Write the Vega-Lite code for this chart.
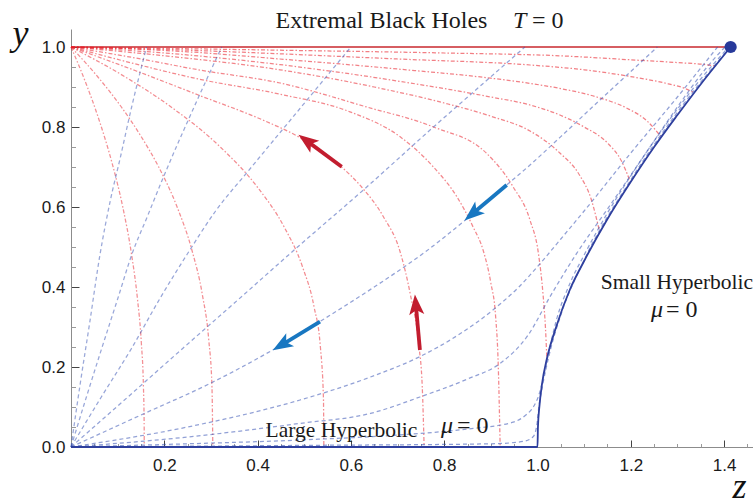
{
  "$schema": "https://vega.github.io/schema/vega-lite/v6.json",
  "width": 682,
  "height": 418,
  "autosize": {"type": "none"},
  "padding": {"left": 71, "top": 29, "right": 0, "bottom": 57},
  "background": "white",
  "config": {"view": {"stroke": null}},
  "resolve": {"axis": {"x": "independent", "y": "independent"}},
  "datasets": {
    "red": [
      {"k":1,"z":0,"y":1},{"k":1,"z":0.0318,"y":0.91},{"k":1,"z":0.0595,"y":0.82},{"k":1,"z":0.088,"y":0.71},{"k":1,"z":0.111,"y":0.6},{"k":1,"z":0.13,"y":0.48},{"k":1,"z":0.1425,"y":0.37},{"k":1,"z":0.1508,"y":0.26},{"k":1,"z":0.1553,"y":0.15},{"k":1,"z":0.1568,"y":0.06},{"k":1,"z":0.157,"y":0},
      {"k":2,"z":0,"y":1},{"k":2,"z":0.0577,"y":0.925},{"k":2,"z":0.108,"y":0.85},{"k":2,"z":0.151,"y":0.775},{"k":2,"z":0.188,"y":0.7},{"k":2,"z":0.2275,"y":0.6},{"k":2,"z":0.2597,"y":0.49},{"k":2,"z":0.2817,"y":0.38},{"k":2,"z":0.2951,"y":0.27},{"k":2,"z":0.3022,"y":0.15},{"k":2,"z":0.304,"y":0},
      {"k":3,"z":0,"y":1},{"k":3,"z":0.1165,"y":0.925},{"k":3,"z":0.2146,"y":0.85},{"k":3,"z":0.32,"y":0.75},{"k":3,"z":0.3994,"y":0.65},{"k":3,"z":0.457,"y":0.55},{"k":3,"z":0.4964,"y":0.45},{"k":3,"z":0.5211,"y":0.35},{"k":3,"z":0.5346,"y":0.25},{"k":3,"z":0.5412,"y":0.12},{"k":3,"z":0.542,"y":0},
      {"k":4,"z":0,"y":1},{"k":4,"z":0.14,"y":0.94},{"k":4,"z":0.273,"y":0.88},{"k":4,"z":0.416,"y":0.815},{"k":4,"z":0.487,"y":0.776},{"k":4,"z":0.58,"y":0.7},{"k":4,"z":0.623,"y":0.65},{"k":4,"z":0.67,"y":0.575},{"k":4,"z":0.705,"y":0.49},{"k":4,"z":0.727,"y":0.384},{"k":4,"z":0.745,"y":0.26},{"k":4,"z":0.753,"y":0.15},{"k":4,"z":0.757,"y":0},
      {"k":5,"z":0,"y":1},{"k":5,"z":0.13,"y":0.96},{"k":5,"z":0.273,"y":0.92},{"k":5,"z":0.448,"y":0.882},{"k":5,"z":0.598,"y":0.838},{"k":5,"z":0.705,"y":0.776},{"k":5,"z":0.777,"y":0.7},{"k":5,"z":0.827,"y":0.626},{"k":5,"z":0.862,"y":0.55},{"k":5,"z":0.884,"y":0.49},{"k":5,"z":0.9,"y":0.41},{"k":5,"z":0.91,"y":0.33},{"k":5,"z":0.916,"y":0.2},{"k":5,"z":0.92,"y":0},
      {"k":6,"z":0,"y":1},{"k":6,"z":0.15,"y":0.97},{"k":6,"z":0.273,"y":0.943},{"k":6,"z":0.448,"y":0.91},{"k":6,"z":0.634,"y":0.85},{"k":6,"z":0.777,"y":0.8},{"k":6,"z":0.891,"y":0.734},{"k":6,"z":0.948,"y":0.65},{"k":6,"z":0.984,"y":0.567},{"k":6,"z":1.002,"y":0.484},{"k":6,"z":1.012,"y":0.38},{"k":6,"z":1.017,"y":0.3},{"k":6,"z":1.02,"y":0.225},
      {"k":7,"z":0,"y":1},{"k":7,"z":0.2,"y":0.978},{"k":7,"z":0.448,"y":0.943},{"k":7,"z":0.65,"y":0.9},{"k":7,"z":0.8,"y":0.86},{"k":7,"z":0.9,"y":0.827},{"k":7,"z":0.984,"y":0.79},{"k":7,"z":1.048,"y":0.735},{"k":7,"z":1.09,"y":0.68},{"k":7,"z":1.115,"y":0.62},{"k":7,"z":1.134,"y":0.534},
      {"k":8,"z":0,"y":1},{"k":8,"z":0.2,"y":0.985},{"k":8,"z":0.448,"y":0.956},{"k":8,"z":0.7,"y":0.915},{"k":8,"z":0.9,"y":0.875},{"k":8,"z":0.984,"y":0.855},{"k":8,"z":1.048,"y":0.83},{"k":8,"z":1.1,"y":0.8},{"k":8,"z":1.15,"y":0.76},{"k":8,"z":1.18,"y":0.715},{"k":8,"z":1.199,"y":0.663},
      {"k":9,"z":0,"y":1},{"k":9,"z":0.25,"y":0.988},{"k":9,"z":0.448,"y":0.97},{"k":9,"z":0.7,"y":0.945},{"k":9,"z":0.9,"y":0.922},{"k":9,"z":0.984,"y":0.909},{"k":9,"z":1.05,"y":0.896},{"k":9,"z":1.127,"y":0.875},{"k":9,"z":1.19,"y":0.848},{"k":9,"z":1.235,"y":0.815},{"k":9,"z":1.264,"y":0.777},
      {"k":10,"z":0,"y":1},{"k":10,"z":0.25,"y":0.992},{"k":10,"z":0.448,"y":0.983},{"k":10,"z":0.7,"y":0.97},{"k":10,"z":0.984,"y":0.955},{"k":10,"z":1.1,"y":0.943},{"k":10,"z":1.2,"y":0.926},{"k":10,"z":1.28,"y":0.908},{"k":10,"z":1.315,"y":0.897},{"k":10,"z":1.334,"y":0.887},
      {"k":11,"z":0,"y":1},{"k":11,"z":0.448,"y":0.992},{"k":11,"z":0.8,"y":0.985},{"k":11,"z":1.048,"y":0.978},{"k":11,"z":1.2,"y":0.968},{"k":11,"z":1.3,"y":0.961},{"k":11,"z":1.36,"y":0.956},{"k":11,"z":1.384,"y":0.952}
    ],
    "blue": [
      {"k":1,"z":0,"y":0},{"k":1,"z":0.02,"y":0.16},{"k":1,"z":0.04,"y":0.31},{"k":1,"z":0.062,"y":0.48},{"k":1,"z":0.085,"y":0.62},{"k":1,"z":0.105,"y":0.72},{"k":1,"z":0.13,"y":0.85},{"k":1,"z":0.162,"y":1},
      {"k":2,"z":0,"y":0},{"k":2,"z":0.033,"y":0.125},{"k":2,"z":0.066,"y":0.247},{"k":2,"z":0.1,"y":0.37},{"k":2,"z":0.13,"y":0.48},{"k":2,"z":0.165,"y":0.58},{"k":2,"z":0.2,"y":0.68},{"k":2,"z":0.26,"y":0.84},{"k":2,"z":0.323,"y":1},
      {"k":3,"z":0,"y":0},{"k":3,"z":0.065,"y":0.125},{"k":3,"z":0.13,"y":0.247},{"k":3,"z":0.19,"y":0.37},{"k":3,"z":0.248,"y":0.48},{"k":3,"z":0.31,"y":0.59},{"k":3,"z":0.38,"y":0.69},{"k":3,"z":0.49,"y":0.845},{"k":3,"z":0.6,"y":1},
      {"k":4,"z":0,"y":0},{"k":4,"z":0.12,"y":0.123},{"k":4,"z":0.24,"y":0.247},{"k":4,"z":0.36,"y":0.37},{"k":4,"z":0.476,"y":0.49},{"k":4,"z":0.634,"y":0.65},{"k":4,"z":0.777,"y":0.8},{"k":4,"z":0.87,"y":0.895},{"k":4,"z":0.973,"y":1},
      {"k":5,"z":0,"y":0},{"k":5,"z":0.15,"y":0.08},{"k":5,"z":0.3,"y":0.16},{"k":5,"z":0.433,"y":0.243},{"k":5,"z":0.534,"y":0.314},{"k":5,"z":0.65,"y":0.4},{"k":5,"z":0.762,"y":0.49},{"k":5,"z":0.845,"y":0.567},{"k":5,"z":0.934,"y":0.655},{"k":5,"z":0.984,"y":0.705},{"k":5,"z":1.05,"y":0.776},{"k":5,"z":1.127,"y":0.86},{"k":5,"z":1.19,"y":0.928},{"k":5,"z":1.257,"y":1},
      {"k":6,"z":0,"y":0},{"k":6,"z":0.25,"y":0.05},{"k":6,"z":0.491,"y":0.1175},{"k":6,"z":0.642,"y":0.175},{"k":6,"z":0.748,"y":0.226},{"k":6,"z":0.83,"y":0.28},{"k":6,"z":0.905,"y":0.343},{"k":6,"z":0.96,"y":0.4},{"k":6,"z":1.006,"y":0.459},{"k":6,"z":1.05,"y":0.52},{"k":6,"z":1.1,"y":0.59},{"k":6,"z":1.2,"y":0.735},{"k":6,"z":1.3,"y":0.875},{"k":6,"z":1.386,"y":1},
      {"k":7,"z":0,"y":0},{"k":7,"z":0.25,"y":0.025},{"k":7,"z":0.491,"y":0.059},{"k":7,"z":0.642,"y":0.084},{"k":7,"z":0.748,"y":0.125},{"k":7,"z":0.85,"y":0.17},{"k":7,"z":0.92,"y":0.209},{"k":7,"z":0.98,"y":0.28},{"k":7,"z":1.027,"y":0.376},{"k":7,"z":1.084,"y":0.484},{"k":7,"z":1.15,"y":0.595},{"k":7,"z":1.231,"y":0.7325},{"k":7,"z":1.3,"y":0.85},{"k":7,"z":1.36,"y":0.945},{"k":7,"z":1.402,"y":1},
      {"k":8,"z":0,"y":0},{"k":8,"z":0.25,"y":0.008},{"k":8,"z":0.491,"y":0.0175},{"k":8,"z":0.7,"y":0.03},{"k":8,"z":0.85,"y":0.045},{"k":8,"z":0.948,"y":0.062},{"k":8,"z":0.975,"y":0.08},{"k":8,"z":0.991,"y":0.1},{"k":8,"z":1.003,"y":0.13},{"k":8,"z":1.012,"y":0.17},{"k":8,"z":1.022,"y":0.226},{"k":8,"z":1.04,"y":0.315},{"k":8,"z":1.07,"y":0.41},{"k":8,"z":1.1,"y":0.48},{"k":8,"z":1.15,"y":0.585},{"k":8,"z":1.2,"y":0.678},{"k":8,"z":1.25,"y":0.765},{"k":8,"z":1.3,"y":0.845},{"k":8,"z":1.35,"y":0.92},{"k":8,"z":1.41,"y":1},
      {"k":9,"z":0,"y":0},{"k":9,"z":0.5,"y":0.004},{"k":9,"z":0.9,"y":0.008},{"k":9,"z":0.97,"y":0.014},{"k":9,"z":0.99,"y":0.025},{"k":9,"z":0.998,"y":0.05},{"k":9,"z":1.003,"y":0.1},{"k":9,"z":1.012,"y":0.16},{"k":9,"z":1.025,"y":0.23},{"k":9,"z":1.05,"y":0.33},{"k":9,"z":1.1,"y":0.467},{"k":9,"z":1.2,"y":0.668},{"k":9,"z":1.3,"y":0.837},{"k":9,"z":1.413,"y":1}
    ],
    "mu0": [
      {"z":0,"y":0},{"z":1,"y":0},{"z":1.001,"y":0.05},{"z":1.004,"y":0.1},{"z":1.01,"y":0.16},{"z":1.02,"y":0.22},{"z":1.04,"y":0.3},{"z":1.07,"y":0.395},{"z":1.1,"y":0.465},{"z":1.15,"y":0.57},{"z":1.2,"y":0.663},{"z":1.25,"y":0.75},{"z":1.3,"y":0.83},{"z":1.35,"y":0.907},{"z":1.414,"y":1}
    ],
    "t0": [{"z":0,"y":1},{"z":1.414,"y":1}],
    "arrows": [
      {"id":"a1","fam":"A","z":0.5803,"y":0.7008,"z2":0.5076,"y2":0.7635},
      {"id":"a2","fam":"A","z":0.748,"y":0.2425,"z2":0.7395,"y2":0.3525},
      {"id":"a3","fam":"B","z":0.934,"y":0.655,"z2":0.8626,"y2":0.585},
      {"id":"a4","fam":"B","z":0.5338,"y":0.3133,"z2":0.4538,"y2":0.2568}
    ]
  },
  "encoding": {
    "x": {"field": "z", "type": "quantitative", "scale": {"domain": [0, 1.462], "nice": false, "zero": false}, "axis": null},
    "y": {"field": "y", "type": "quantitative", "scale": {"domain": [0, 1.045], "nice": false, "zero": false}, "axis": null}
  },
  "layer": [
    {
      "data": {"name": "t0"},
      "mark": {"type": "line", "color": "#c8282e", "strokeWidth": 1.7},
      "encoding": {
        "x": {"field": "z", "type": "quantitative", "scale": {"domain": [0, 1.462], "nice": false, "zero": false},
          "axis": {"orient": "bottom", "values": [0.2,0.4,0.6,0.8,1.0,1.2,1.4], "format": ".1f", "tickSize": -7, "tickColor": "#444", "tickWidth": 1, "domainColor": "#8c8c8c", "domainWidth": 1, "labelFont": "Liberation Sans", "labelFontSize": 17, "labelColor": "#1a1a1a", "labelPadding": 17, "labelFlush": false, "labelOverlap": false, "grid": false, "title": "z", "titleFont": "Liberation Serif", "titleFontStyle": "italic", "titleFontWeight": "normal", "titleFontSize": 36, "titleColor": "#111", "titleAngle": 0, "titleAlign": "center", "titleBaseline": "alphabetic", "titleX": 668, "titleY": 50}},
        "y": {"field": "y", "type": "quantitative", "scale": {"domain": [0, 1.045], "nice": false, "zero": false},
          "axis": {"orient": "left", "values": [0,0.2,0.4,0.6,0.8,1.0], "format": ".1f", "tickSize": -8, "tickColor": "#444", "tickWidth": 1, "domainColor": "#8c8c8c", "domainWidth": 1, "labelFont": "Liberation Sans", "labelFontSize": 17, "labelColor": "#1a1a1a", "labelPadding": 14, "labelFlush": false, "labelOverlap": false, "grid": false, "title": "y", "titleFont": "Liberation Serif", "titleFontStyle": "italic", "titleFontWeight": "normal", "titleFontSize": 36, "titleColor": "#111", "titleAngle": 0, "titleAlign": "center", "titleBaseline": "alphabetic", "titleX": -51, "titleY": 15}}
      }
    },
    {
      "data": {"name": "red"},
      "mark": {"type": "line", "color": "#e8202a", "strokeWidth": 1.25, "strokeDash": [4, 2, 1.5, 2], "interpolate": "monotone"},
      "encoding": {
        "detail": {"field": "k", "type": "nominal"},
        "opacity": {"field": "k", "type": "quantitative", "scale": {"domain": [1, 4, 6, 8, 11], "range": [0.5, 0.58, 0.68, 0.85, 1]}, "legend": null}
      }
    },
    {
      "data": {"name": "blue"},
      "mark": {"type": "line", "color": "#3652b4", "strokeWidth": 1.25, "strokeDash": [4, 3], "interpolate": "monotone"},
      "encoding": {
        "detail": {"field": "k", "type": "nominal"},
        "opacity": {"field": "k", "type": "quantitative", "scale": {"domain": [1, 2, 3, 4, 5, 9], "range": [0.35, 0.5, 0.65, 0.8, 0.92, 0.95]}, "legend": null}
      }
    },
    {
      "data": {"name": "mu0"},
      "mark": {"type": "line", "color": "#2e3f9e", "strokeWidth": 1.8, "interpolate": "monotone"},
      "encoding": {}
    },
    {
      "data": {"name": "arrows"},
      "mark": {"type": "rule", "strokeWidth": 3.8},
      "encoding": {
        "x2": {"field": "z2"},
        "y2": {"field": "y2"},
        "color": {"field": "fam", "type": "nominal", "scale": {"domain": ["A", "B"], "range": ["#c21d2f", "#1877c1"]}, "legend": null}
      }
    },
    {
      "data": {"name": "arrows"},
      "transform": [{"filter": "datum.id === 'a1'"}],
      "mark": {"type": "point", "shape": "M0,-1L0.65,0.75L0,0.35L-0.65,0.75Z", "filled": true, "size": 540, "angle": 306.6, "color": "#c21d2f", "opacity": 1},
      "encoding": {"x": {"field": "z2", "type": "quantitative"}, "y": {"field": "y2", "type": "quantitative"}}
    },
    {
      "data": {"name": "arrows"},
      "transform": [{"filter": "datum.id === 'a2'"}],
      "mark": {"type": "point", "shape": "M0,-1L0.65,0.75L0,0.35L-0.65,0.75Z", "filled": true, "size": 540, "angle": 354.8, "color": "#c21d2f", "opacity": 1},
      "encoding": {"x": {"field": "z2", "type": "quantitative"}, "y": {"field": "y2", "type": "quantitative"}}
    },
    {
      "data": {"name": "arrows"},
      "transform": [{"filter": "datum.id === 'a3'"}],
      "mark": {"type": "point", "shape": "M0,-1L0.65,0.75L0,0.35L-0.65,0.75Z", "filled": true, "size": 540, "angle": 230, "color": "#1877c1", "opacity": 1},
      "encoding": {"x": {"field": "z2", "type": "quantitative"}, "y": {"field": "y2", "type": "quantitative"}}
    },
    {
      "data": {"name": "arrows"},
      "transform": [{"filter": "datum.id === 'a4'"}],
      "mark": {"type": "point", "shape": "M0,-1L0.65,0.75L0,0.35L-0.65,0.75Z", "filled": true, "size": 540, "angle": 238.8, "color": "#1877c1", "opacity": 1},
      "encoding": {"x": {"field": "z2", "type": "quantitative"}, "y": {"field": "y2", "type": "quantitative"}}
    },
    {
      "data": {"values": [{"z": 1.414, "y": 1}]},
      "mark": {"type": "point", "filled": true, "size": 150, "color": "#27399a", "opacity": 1},
      "encoding": {
        "x": {"field": "z", "type": "quantitative", "scale": {"domain": [0, 1.462], "nice": false, "zero": false},
          "axis": {"orient": "bottom", "values": [0.05,0.1,0.15,0.25,0.3,0.35,0.45,0.5,0.55,0.65,0.7,0.75,0.85,0.9,0.95,1.05,1.1,1.15,1.25,1.3,1.35,1.45], "labels": false, "domain": false, "grid": false, "tickSize": -3.5, "tickColor": "#9a9a9a", "tickWidth": 1, "title": null}},
        "y": {"field": "y", "type": "quantitative", "scale": {"domain": [0, 1.045], "nice": false, "zero": false},
          "axis": {"orient": "left", "values": [0.05,0.1,0.15,0.25,0.3,0.35,0.45,0.5,0.55,0.65,0.7,0.75,0.85,0.9,0.95], "labels": false, "domain": false, "grid": false, "tickSize": -4.5, "tickColor": "#9a9a9a", "tickWidth": 1, "title": null}}
      }
    },
    {
      "data": {"values": [{"text": "Extremal Black Holes", "z": 0.6656, "y": 1.0638}]},
      "mark": {"type": "text", "font": "Liberation Serif", "fontSize": 24, "align": "center", "baseline": "middle", "color": "#1a1a1a"},
      "encoding": {"text": {"field": "text"}}
    },
    {
      "data": {"values": [{"text": "T", "z": 0.9475, "y": 1.0638}]},
      "mark": {"type": "text", "font": "Liberation Serif", "fontStyle": "italic", "fontSize": 24, "align": "left", "baseline": "middle", "color": "#1a1a1a"},
      "encoding": {"text": {"field": "text"}}
    },
    {
      "data": {"values": [{"text": "= 0", "z": 0.9882, "y": 1.0638}]},
      "mark": {"type": "text", "font": "Liberation Serif", "fontSize": 24, "align": "left", "baseline": "middle", "color": "#1a1a1a"},
      "encoding": {"text": {"field": "text"}}
    },
    {
      "data": {"values": [{"text": "Small Hyperbolic", "z": 1.299, "y": 0.4088}, {"text": "Large Hyperbolic", "z": 0.5798, "y": 0.04}]},
      "mark": {"type": "text", "font": "Liberation Serif", "fontSize": 21.5, "align": "center", "baseline": "middle", "color": "#1a1a1a"},
      "encoding": {"text": {"field": "text"}}
    },
    {
      "data": {"values": [{"text": "μ", "z": 1.2433, "y": 0.3425}, {"text": "μ", "z": 0.7931, "y": 0.0513}]},
      "mark": {"type": "text", "font": "Liberation Serif", "fontStyle": "italic", "fontSize": 24, "align": "left", "baseline": "middle", "color": "#1a1a1a"},
      "encoding": {"text": {"field": "text"}}
    },
    {
      "data": {"values": [{"text": "= 0", "z": 1.2755, "y": 0.3425}, {"text": "= 0", "z": 0.8274, "y": 0.0513}]},
      "mark": {"type": "text", "font": "Liberation Serif", "fontSize": 24, "align": "left", "baseline": "middle", "color": "#1a1a1a"},
      "encoding": {"text": {"field": "text"}}
    }
  ]
}
